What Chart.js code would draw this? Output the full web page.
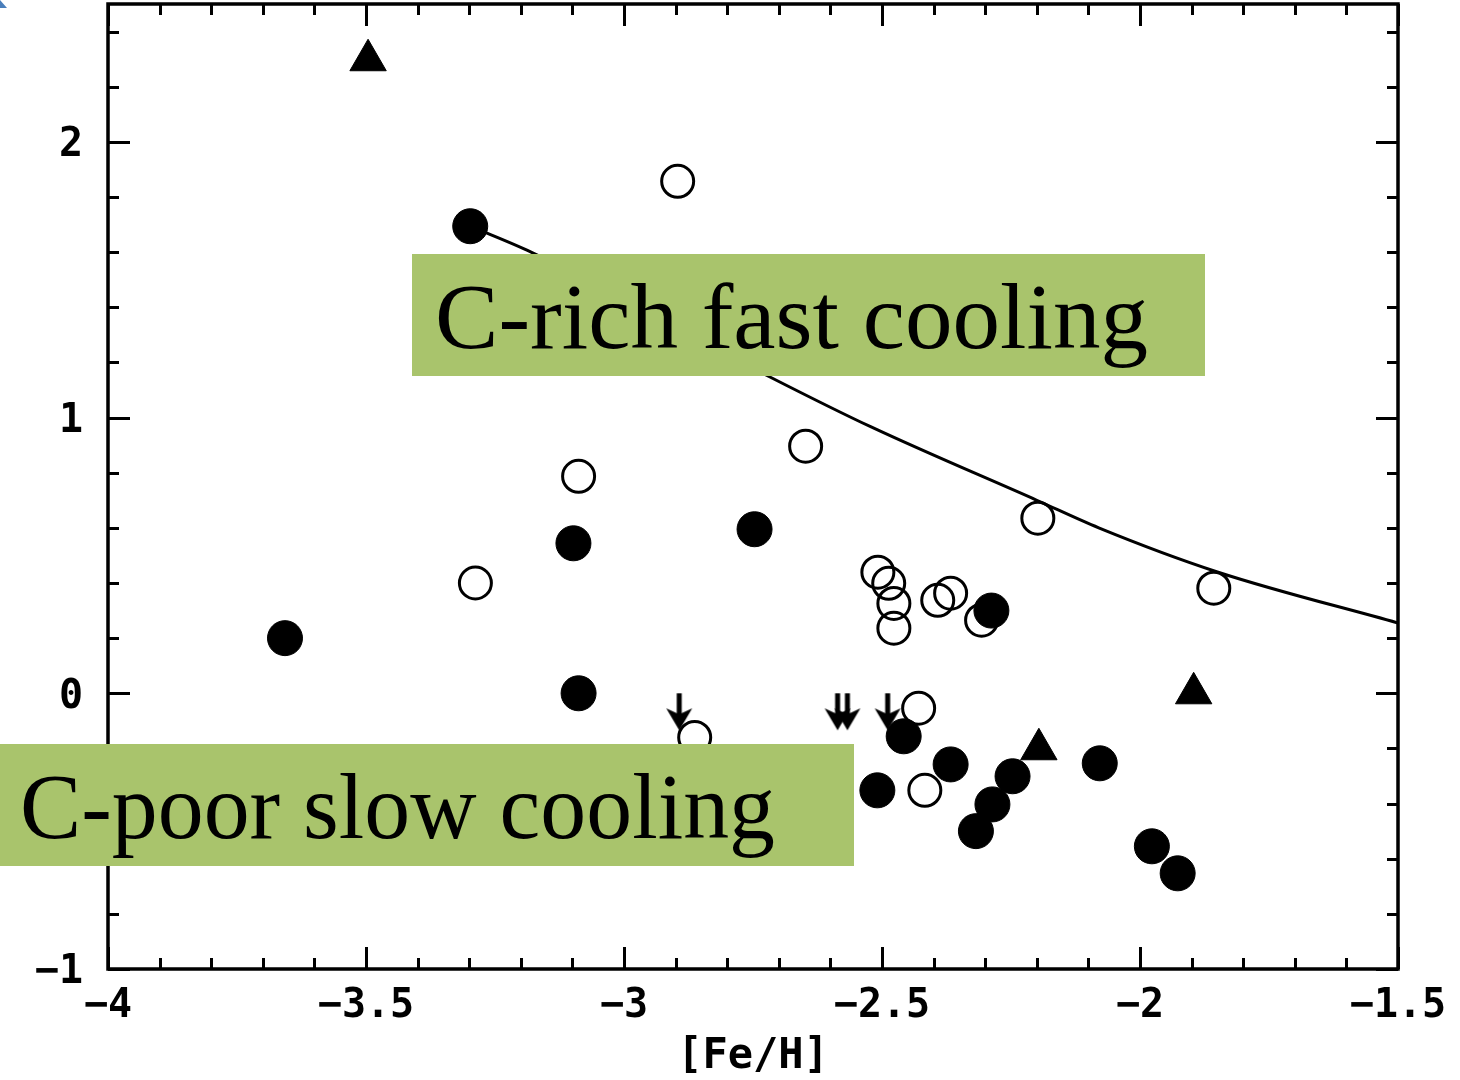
<!DOCTYPE html>
<html>
<head>
<meta charset="utf-8">
<script src="https://cdn.jsdelivr.net/npm/chart.js@4/dist/chart.umd.min.js"></script>
<style>
  body { margin:0; background:#fff; }
</style>
</head>
<body>
<canvas id="mychart" width="1460" height="1080"></canvas>
<script>
// tick labels
var xTicks = [-4, -3.5, -3, -2.5, -2, -1.5]
var yTicks = [-1, 0, 1, 2]

// filled circles
var filledX = [-3.657, -3.298, -3.098, -3.088, -2.747, -2.288, -2.458, -2.509, -2.367, -2.247, -2.286, -2.318, -2.078, -1.977, -1.927]
var filledY = [0.20, 1.694, 0.544, 0.0, 0.595, 0.30, -0.156, -0.352, -0.258, -0.301, -0.403, -0.50, -0.254, -0.555, -0.653]

// open circles
var openX = [-2.896, -2.648, -3.088, -3.288, -2.198, -1.857, -2.508, -2.487, -2.477, -2.477, -2.392, -2.367, -2.307, -2.429, -2.863, -2.417]
var openY = [1.857, 0.896, 0.787, 0.40, 0.635, 0.381, 0.439, 0.399, 0.326, 0.236, 0.337, 0.363, 0.265, -0.054, -0.16, -0.352]

// triangles
var triX = [-3.496, -1.896, -2.196]
var triY = [2.296, 0.0, -0.203]

// upper limits (arrows)
var arrowX = [-2.893, -2.586, -2.567, -2.489]
var arrowY = [0, 0, 0, 0]

// model curve
var curveX = [-3.298, -3.18, -2.72, -2.52, -2.2, -2.08, -1.85, -1.5]
var curveY = [1.694, 1.60, 1.15, 0.965, 0.70, 0.60, 0.44, 0.255]

function pts(xs, ys){
    return xs.map(function(x, i){ return {x: x, y: ys[i]} })
}

function fmt(v){
    return (v < 0 ? '\u2212' : '') + Math.abs(v)
}

// arrow marker, top of the arrow sits on the point
function makeArrow(){
    var c = document.createElement('canvas')
    c.width = 32
    c.height = 76
    var g = c.getContext('2d')
    g.fillStyle = '#000'
    g.fillRect(13.5, 38, 5, 22)
    g.beginPath()
    g.moveTo(16, 75)
    g.lineTo(3, 53)
    g.lineTo(16, 59)
    g.lineTo(29, 53)
    g.closePath()
    g.fill()
    return c
}

var tickFont = {family: 'DejaVu Sans Mono', size: 40, weight: 'bold'}

// frame with inward ticks on all four sides + the two green labels
var framePlugin = {
    id: 'frame',
    afterDatasetsDraw: function(chart){
        var ctx = chart.ctx
        var a = chart.chartArea
        var xs = chart.scales.x, ys = chart.scales.y
        ctx.save()
        ctx.strokeStyle = '#000'
        ctx.lineWidth = 3
        ctx.beginPath()
        for (var i = 0; i <= 25; i++) {
            var v = -4 + i * 0.1
            var px = Math.round(xs.getPixelForValue(v)) + 0.5
            var len = (i % 5 == 0) ? 22 : 11
            ctx.moveTo(px, a.bottom); ctx.lineTo(px, a.bottom - len)
            ctx.moveTo(px, a.top); ctx.lineTo(px, a.top + len)
        }
        for (var j = 0; j <= 17; j++) {
            var w = -1 + j * 0.2
            var py = Math.round(ys.getPixelForValue(w)) + 0.5
            var l2 = (j % 5 == 0) ? 22 : 11
            ctx.moveTo(a.left, py); ctx.lineTo(a.left + l2, py)
            ctx.moveTo(a.right, py); ctx.lineTo(a.right - l2, py)
        }
        ctx.stroke()
        ctx.lineWidth = 3.5
        ctx.strokeRect(a.left, a.top, a.right - a.left, a.bottom - a.top)
        ctx.restore()
    },
    afterDraw: function(chart){
        var ctx = chart.ctx
        drawLabel(ctx, 'C-rich fast cooling', [412, 254, 1205, 376], 435, 348, 713)
        drawLabel(ctx, 'C-poor slow cooling', [0, 744, 854, 866], 20, 838, 755)

        // y title, mostly cut off at the left edge
        ctx.save()
        ctx.translate(-17, 485)
        ctx.rotate(-Math.PI / 2)
        ctx.font = 'bold 40px "DejaVu Sans Mono"'
        ctx.fillStyle = '#000'
        ctx.textAlign = 'center'
        ctx.textBaseline = 'middle'
        ctx.fillText('[C/Fe]', 0, 0)
        ctx.restore()

        // little blue corner from the slide
        ctx.fillStyle = '#4a7ebb'
        ctx.beginPath()
        ctx.moveTo(0, 0); ctx.lineTo(7, 8); ctx.lineTo(0, 8)
        ctx.closePath()
        ctx.fill()
    }
}

function drawLabel(ctx, text, box, tx, baseline, width){
    ctx.save()
    ctx.fillStyle = '#a9c46c'
    ctx.fillRect(box[0], box[1], box[2] - box[0], box[3] - box[1])
    ctx.font = '94px "Liberation Serif"'
    var m = ctx.measureText(text).width
    ctx.translate(tx, baseline)
    ctx.scale(width / m, 1)
    ctx.fillStyle = '#000'
    ctx.textBaseline = 'alphabetic'
    ctx.fillText(text, 0, 0)
    ctx.restore()
}

var mychart = document.getElementById('mychart').getContext('2d')
var chart = new Chart(mychart, {
    type: 'scatter',
    data: {
        datasets: [
            {
                label: 'filled',
                data: pts(filledX, filledY),
                pointStyle: 'circle',
                pointRadius: 17.5,
                backgroundColor: '#000',
                borderColor: '#000',
                borderWidth: 1
            },
            {
                label: 'limits',
                data: pts(arrowX, arrowY),
                pointStyle: makeArrow(),
                pointRadius: 10
            },
            {
                label: 'triangles',
                data: pts(triX, triY),
                pointStyle: 'triangle',
                pointRadius: 21,
                backgroundColor: '#000',
                borderColor: '#000',
                borderWidth: 1
            },
            {
                label: 'open',
                data: pts(openX, openY),
                pointStyle: 'circle',
                pointRadius: 16,
                backgroundColor: 'rgba(0,0,0,0)',
                borderColor: '#000',
                borderWidth: 3
            },
            {
                label: 'curve',
                data: pts(curveX, curveY),
                showLine: true,
                pointRadius: 0,
                borderColor: '#000',
                borderWidth: 3,
                cubicInterpolationMode: 'monotone',
                fill: false
            }
        ]
    },
    options: {
        responsive: false,
        animation: false,
        events: [],
        layout: {autoPadding: false, padding: {top: 4, right: 62, left: 0, bottom: 0}},
        plugins: {legend: {display: false}, tooltip: {enabled: false}},
        scales: {
            x: {
                type: 'linear',
                min: -4,
                max: -1.5,
                afterBuildTicks: function(s){ s.ticks = xTicks.map(function(v){ return {value: v} }) },
                afterFit: function(s){ s.height = 111; s.paddingLeft = 0; s.paddingRight = 0 },
                grid: {display: false, drawTicks: false},
                border: {display: false},
                ticks: {padding: 14, color: '#000', font: tickFont, maxRotation: 0, autoSkip: false, callback: fmt},
                title: {display: true, text: '[Fe/H]', color: '#000', font: {family: 'DejaVu Sans Mono', size: 42, weight: 'bold', lineHeight: 1.0}, padding: {top: 0, bottom: 2}}
            },
            y: {
                type: 'linear',
                min: -1,
                max: 2.5,
                afterBuildTicks: function(s){ s.ticks = yTicks.map(function(v){ return {value: v} }) },
                afterFit: function(s){ s.width = 108; s.paddingTop = 0; s.paddingBottom = 0 },
                grid: {display: false, drawTicks: false},
                border: {display: false},
                ticks: {padding: 25, labelOffset: 4, color: '#000', font: tickFont, callback: fmt}
            }
        }
    },
    plugins: [framePlugin]
})
</script>
</body>
</html>
